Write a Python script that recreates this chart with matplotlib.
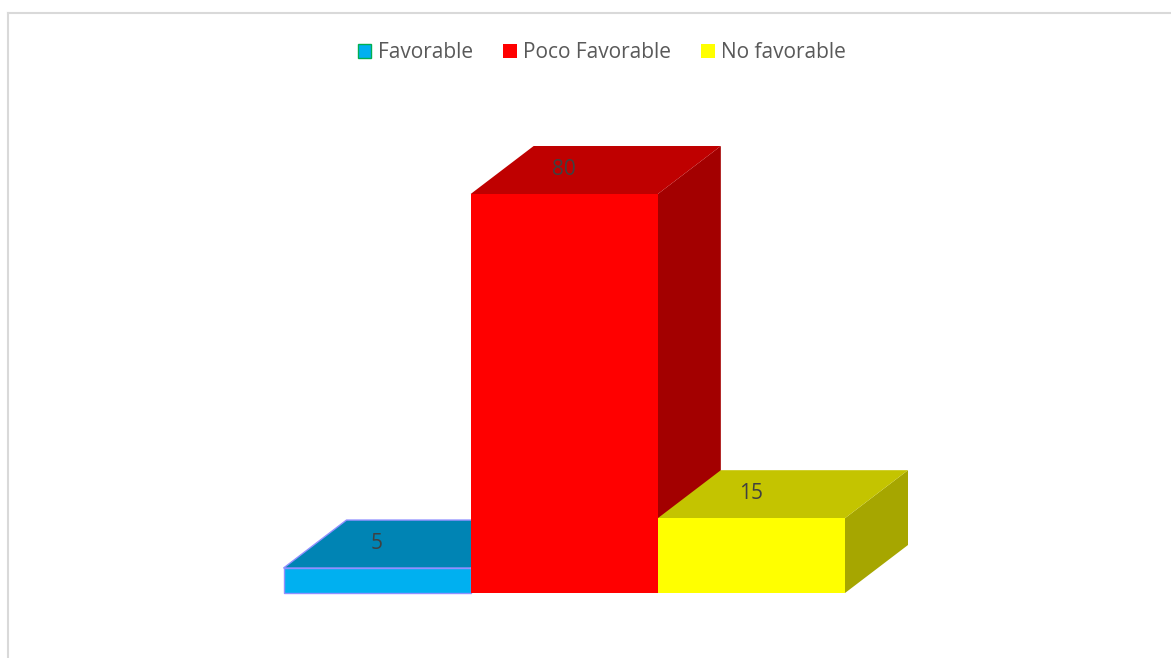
#!/usr/bin/env python
# -*- coding: utf-8 -*-
"""Pseudo-3D column chart of the favourability survey."""

import matplotlib

matplotlib.use("Agg")
import matplotlib.pyplot as plt
from matplotlib.lines import Line2D
from matplotlib.patches import Patch, Polygon

categories = ["Favorable", "Poco Favorable", "No favorable"]
values = [5, 80, 15]

FRONT = ["#00B0F0", "#FF0000", "#FFFF00"]
TOP = ["#0084B4", "#BF0000", "#C4C400"]
SIDE = ["#006A90", "#A30000", "#A6A600"]
EDGE = ["#9090FF", "none", "none"]
INK = "#404040"
FRAME = "#D9D9D9"

W, H = 1171, 658

plt.rcParams["font.family"] = ["Open Sans", "DejaVu Sans"]

fig = plt.figure(figsize=(W / 100, H / 100), dpi=100, facecolor="white")

# axes box runs from the foot of the columns to the height of the tallest one
left, right, bottom, top = 283.5, 845.0, 593.0, 194.0
ax = fig.add_axes([left / W, 1 - bottom / H, (right - left) / W, (bottom - top) / H])
ax.set_xlim(0, len(values))
ax.set_ylim(0, max(values))
ax.axis("off")

# depth of the extrusion, converted from pixels to data units
dx = 63.0 * len(values) / (right - left)
dy = 48.0 * max(values) / (bottom - top)


def column(i, v):
    edge = EDGE[i]
    lw = 1.0 if edge != "none" else 0
    x0, x1 = i, i + 1
    side = [(x1, 0), (x1 + dx, dy), (x1 + dx, v + dy), (x1, v)]
    lid = [(x0, v), (x0 + dx, v + dy), (x1 + dx, v + dy), (x1, v)]
    face = [(x0, 0), (x1, 0), (x1, v), (x0, v)]
    for pts, col in ((side, SIDE[i]), (lid, TOP[i]), (face, FRONT[i])):
        ax.add_patch(Polygon(pts, closed=True, facecolor=col, edgecolor=edge,
                             linewidth=lw, clip_on=False))
    # value sits on the lid, centred over the front face
    ax.text(i + 0.5, v + dy / 2 + 0.1, str(v), ha="center", va="center",
            fontsize=15, color=INK, clip_on=False)


# left to right so each column hides the side of the previous one
for i, v in enumerate(values):
    column(i, v)

handles = [
    Patch(facecolor=FRONT[0], edgecolor="#00B050", linewidth=1.0),
    Patch(facecolor=FRONT[1], edgecolor="none"),
    Patch(facecolor=FRONT[2], edgecolor="none"),
]
fig.legend(
    handles,
    categories,
    ncol=3,
    loc="center",
    bbox_to_anchor=(601.5 / W, 1 - 53 / H),
    frameon=False,
    fontsize=15,
    labelcolor="#595959",
    handlelength=0.67,
    handleheight=0.67,
    handletextpad=0.29,
    columnspacing=1.44,
)

# chart frame, only the top and left edges are in view
fig.add_artist(Line2D([8.2 / W, 8.2 / W], [0, 1 - 13 / H], color=FRAME, lw=1.5))
fig.add_artist(Line2D([8.2 / W, 1], [1 - 13 / H, 1 - 13 / H], color=FRAME, lw=1.5))

fig.savefig("out.png", dpi=100, facecolor="white")
